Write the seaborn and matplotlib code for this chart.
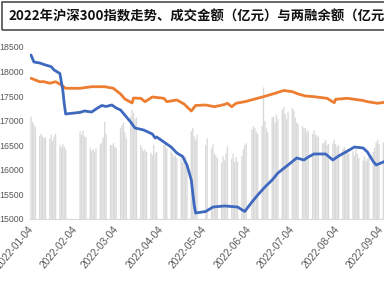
import matplotlib
matplotlib.use("Agg")
import matplotlib.pyplot as plt
import matplotlib.dates as mdates
from matplotlib.patches import Rectangle
import numpy as np
import pandas as pd
import seaborn as sns

# ---------------- data ----------------
title = "2022年沪深300指数走势、成交金额（亿元）与两融余额（亿元"

holidays = ["2022-01-31", "2022-02-01", "2022-02-02", "2022-02-03", "2022-02-04",
            "2022-04-04", "2022-04-05", "2022-05-02", "2022-05-03", "2022-05-04",
            "2022-06-03"]

turnover_jan = [11900, 11300, 11000, 10700, 9700, 9900, 9600, 9400, 9500, 9300,
                9800, 9100, 9600, 9900, 8600, 8300, 8700, 8400, 8100]
turnover_feb = [10200, 9800, 10300, 9600, 9500, 8300, 7900, 8100, 7800, 8200,
                8700, 8900, 9500, 11300, 9900, 8600]
turnover_mar = [8600, 8800, 8400, 8300, 10600, 10900, 11200, 10100, 9400,
                11900, 12700, 12300, 11600, 11800, 8600, 8200, 7900, 8100, 7800,
                7700, 7400, 8600, 7600]
turnover_apr = [7800, 8600, 8900, 8200, 7900, 7600, 7200, 7400, 7100,
                7000, 6600, 6900, 7300, 6500, 10200, 10600, 9600, 9200, 9800]
turnover_may = [8600, 9400, 8200, 8700, 7600, 7400, 7100, 6500, 7300, 6800, 7600,
                8400, 7000, 7600, 6600, 7200, 6700, 7300, 8100]
turnover_jun = [8600, 8800, 10400, 10800, 10600, 10200, 9900, 10800, 15300, 11400,
                10500, 10100, 11800, 11900, 11200, 12100, 11600, 12700, 13000,
                12200, 11600]
turnover_jul = [12400, 12900, 12600, 11800, 11200, 11000, 10800, 10500, 10600,
                10100, 10300, 9900, 10300, 9800, 9700, 9500, 8800, 8900, 9200,
                8600, 8700]
turnover_aug = [8800, 9200, 8700, 8400, 8600, 8200, 8400, 7800, 8100, 7600, 7900,
                7400, 8200, 7600, 7100, 6800, 7300, 6700, 7000, 7200, 7800, 8300,
                8900]
turnover_sep = [9200, 8700, 8900, 8200, 8600, 7900, 8100]

margin_dates = ["2022-01-04", "2022-01-06", "2022-01-10", "2022-01-14", "2022-01-18",
                "2022-01-20", "2022-01-24", "2022-01-26", "2022-01-27", "2022-01-28",
                "2022-02-07", "2022-02-10", "2022-02-15", "2022-02-18", "2022-02-22",
                "2022-02-25", "2022-03-01", "2022-03-04", "2022-03-07", "2022-03-14",
                "2022-03-17", "2022-03-23", "2022-03-29", "2022-03-31", "2022-04-01",
                "2022-04-07", "2022-04-11", "2022-04-15", "2022-04-19", "2022-04-22",
                "2022-04-25", "2022-04-27", "2022-04-28", "2022-05-05", "2022-05-10",
                "2022-05-18", "2022-05-23", "2022-05-27", "2022-06-01", "2022-06-06",
                "2022-06-10", "2022-06-15", "2022-06-20", "2022-06-24", "2022-07-01",
                "2022-07-07", "2022-07-12", "2022-07-15", "2022-07-19", "2022-07-27",
                "2022-08-01", "2022-08-05", "2022-08-10", "2022-08-16", "2022-08-22",
                "2022-08-25", "2022-08-29", "2022-08-31", "2022-09-05", "2022-09-08"]
margin_vals = [18337, 18195, 18175, 18134, 18100, 18032, 17960, 17625, 17350, 17137,
               17170, 17198, 17177, 17238, 17310, 17290, 17320, 17259, 17218, 16974,
               16852, 16811, 16730, 16648, 16669, 16547, 16465, 16343, 16272, 16099,
               15794, 15285, 15122, 15153, 15244, 15265, 15254, 15244, 15153, 15346,
               15488, 15651, 15794, 15936, 16099, 16241, 16201, 16262, 16323, 16323,
               16201, 16282, 16363, 16465, 16445, 16363, 16170, 16099, 16160, 16200]

index_dates = ["2022-01-04", "2022-01-10", "2022-01-13", "2022-01-17", "2022-01-21",
               "2022-01-25", "2022-01-28", "2022-02-07", "2022-02-15", "2022-02-24",
               "2022-03-02", "2022-03-07", "2022-03-10", "2022-03-15", "2022-03-16",
               "2022-03-21", "2022-03-24", "2022-03-29", "2022-04-06", "2022-04-08",
               "2022-04-15", "2022-04-20", "2022-04-25", "2022-04-28", "2022-05-05",
               "2022-05-11", "2022-05-18", "2022-05-20", "2022-05-23", "2022-05-26",
               "2022-06-01", "2022-06-08", "2022-06-14", "2022-06-22", "2022-06-28",
               "2022-07-04", "2022-07-08", "2022-07-13", "2022-07-19", "2022-07-28",
               "2022-08-02", "2022-08-03", "2022-08-11", "2022-08-16", "2022-08-22",
               "2022-08-25", "2022-09-01", "2022-09-05", "2022-09-08"]
index_vals = [17863, 17794, 17794, 17762, 17794, 17727, 17660, 17660, 17692, 17692,
              17660, 17544, 17442, 17361, 17462, 17456, 17387, 17483, 17456, 17387,
              17422, 17340, 17198, 17310, 17320, 17285, 17330, 17355, 17285, 17355,
              17387, 17442, 17489, 17558, 17615, 17591, 17544, 17503, 17489, 17456,
              17367, 17436, 17456, 17436, 17411, 17387, 17355, 17371, 17380]

tick_dates = ["2022-01-04", "2022-02-04", "2022-03-04", "2022-04-04", "2022-05-04",
              "2022-06-04", "2022-07-04", "2022-08-04", "2022-09-04"]
y_ticks = [15000, 15500, 16000, 16500, 17000, 17500, 18000, 18500]

# ---------------- build ----------------
trade_days = pd.bdate_range("2022-01-04", "2022-09-09")
trade_days = trade_days[~trade_days.isin(pd.to_datetime(holidays))]
turnover = (turnover_jan + turnover_feb + turnover_mar + turnover_apr + turnover_may
            + turnover_jun + turnover_jul + turnover_aug + turnover_sep)
bars_df = pd.DataFrame({"date": mdates.date2num(trade_days.to_pydatetime()),
                        "turnover": turnover})
margin_df = pd.DataFrame({"date": mdates.date2num(pd.to_datetime(margin_dates).to_pydatetime()),
                          "val": margin_vals})
index_df = pd.DataFrame({"date": mdates.date2num(pd.to_datetime(index_dates).to_pydatetime()),
                         "val": index_vals})

sns.set_style("white")
plt.rcParams["font.family"] = ["Liberation Sans", "DejaVu Sans"]

fig = plt.figure(figsize=(3.84, 2.87), dpi=100)
W, H = 384.0, 287.0
px_per_day = 1.444
d0 = mdates.date2num(pd.Timestamp("2022-01-04").to_pydatetime())
x_lo = d0 - 0.7
x_hi = mdates.date2num(pd.Timestamp("2022-09-10").to_pydatetime())
axw = (x_hi - x_lo) * px_per_day
ax = fig.add_axes([30 / W, 68 / H, axw / W, 172 / H])

sns.barplot(data=bars_df, x="date", y="turnover", native_scale=True, width=0.92,
            color="#d9d9d9", saturation=1, errorbar=None, ax=ax)
for p in ax.patches:
    p.set_snap(False)
    p.set_edgecolor("none")
    p.set_linewidth(0)
ax.set_ylim(0, 20000)
ax.set_xlim(x_lo, x_hi)
ax.set_yticks([])
ax.set_xlabel("")
ax.set_ylabel("")

axl = ax.twinx()
sns.lineplot(data=index_df, x="date", y="val", color="#ED7D31", linewidth=2.0, ax=axl)
sns.lineplot(data=margin_df, x="date", y="val", color="#3F68BF", linewidth=2.0, ax=axl)
axl.set_ylim(15000, 18500)
axl.set_xlim(x_lo, x_hi)
axl.set_xlabel("")
axl.set_ylabel("")
axl.yaxis.tick_left()
axl.set_yticks(y_ticks)
axl.set_yticklabels([str(v) for v in y_ticks])
axl.tick_params(axis="y", length=0, pad=4.5, labelsize=6.3, labelcolor="#595959")

tick_nums = mdates.date2num(pd.to_datetime(tick_dates).to_pydatetime())
ax.set_xticks(tick_nums)
ax.set_xticklabels(tick_dates)
ax.tick_params(axis="x", length=0, pad=6, labelsize=7.3, labelcolor="#595959")
for lab in ax.get_xticklabels():
    lab.set_rotation(50)
    lab.set_ha("right")
    lab.set_va("center")
    lab.set_rotation_mode("anchor")

for a in (ax, axl):
    for s in ("top", "right", "left"):
        a.spines[s].set_visible(False)
ax.spines["bottom"].set_color("#d9d9d9")
ax.spines["bottom"].set_linewidth(0.8)
axl.spines["bottom"].set_visible(False)

fig.add_artist(Rectangle((1.5 / W, 1 - 29.5 / H), 1.2, 27.5 / H,
                         transform=fig.transFigure, fill=False,
                         edgecolor="#3f3f3f", linewidth=1.1, clip_on=False))
fig.text(8 / W, 1 - 16.5 / H, title, fontsize=9.6, fontweight="bold",
         family=["Noto Sans CJK SC", "DejaVu Sans"], ha="left", va="center",
         color="#111111")

fig.savefig("out.png", dpi=100)
